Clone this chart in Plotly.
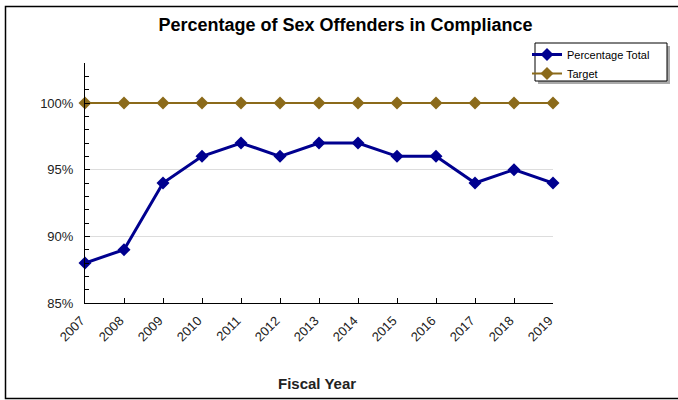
import plotly.graph_objects as go

years = [2007, 2008, 2009, 2010, 2011, 2012, 2013, 2014, 2015, 2016, 2017, 2018, 2019]
percentage_total = [88, 89, 94, 96, 97, 96, 97, 97, 96, 96, 94, 95, 94]
target = [100] * len(years)
y_ticks = [85, 90, 95, 100]
y_tick_labels = ["85%", "90%", "95%", "100%"]

W, H = 678, 400
L, R, T, B = 85, 125, 63, 97
pw, ph = W - L - R, H - T - B

BLUE = "#00008f"
GOLD = "#8b6a1a"

fig = go.Figure()
fig.add_trace(go.Scatter(
    x=years, y=percentage_total, name="Percentage Total", mode="lines+markers",
    line=dict(color=BLUE, width=3), marker=dict(symbol="diamond", size=10, color=BLUE),
    cliponaxis=False))
fig.add_trace(go.Scatter(
    x=years, y=target, name="Target", mode="lines+markers",
    line=dict(color=GOLD, width=2), marker=dict(symbol="diamond", size=10, color=GOLD),
    cliponaxis=False))

def px_x(p):
    return (p - L) / pw

def px_y(p):
    return (H - B - p) / ph

fig.update_layout(
    width=W, height=H,
    margin=dict(l=L, r=R, t=T, b=B),
    paper_bgcolor="white", plot_bgcolor="white",
    font=dict(family="Arial, Liberation Sans, sans-serif", size=13, color="#222"),
    title=dict(text="<b>Percentage of Sex Offenders in Compliance</b>",
               x=345.5 / W, xref="container", xanchor="center",
               y=1 - 25 / H, yref="container", yanchor="middle",
               font=dict(size=18, color="#000")),
    showlegend=True,
    legend=dict(x=px_x(527), y=px_y(40), xanchor="left", yanchor="top",
                bgcolor="rgba(0,0,0,0)", borderwidth=0,
                font=dict(size=11, color="#000"), tracegroupgap=0,
                itemwidth=30),
    xaxis=dict(range=[2007, 2019], tickmode="array", tickvals=years,
               ticktext=[str(y) for y in years], tickangle=-45,
               ticks="inside", ticklen=5, tickcolor="#000",
               showline=True, linecolor="#000", linewidth=1,
               showgrid=False, zeroline=False, fixedrange=True,
               ticklabelstandoff=4, ticklabelshift=-4),
    yaxis=dict(range=[85, 103], tickmode="array", tickvals=y_ticks,
               ticktext=y_tick_labels, ticks="inside", ticklen=5, tickcolor="#000",
               showline=True, linecolor="#000", linewidth=1,
               showgrid=True, gridcolor="#dddddd", zeroline=False,
               minor=dict(dtick=1, ticks="inside", ticklen=4, tickcolor="#000", showgrid=False),
               fixedrange=True, ticklabelstandoff=8),
    annotations=[dict(text="<b>Fiscal Year</b>", x=px_x(317), y=px_y(383),
                      xref="paper", yref="paper", showarrow=False,
                      xanchor="center", yanchor="middle",
                      font=dict(size=15, color="#222"))],
)

# outer border (left, top, bottom edges; right edge is outside the picture)
bx0, bx1 = px_x(5.5), px_x(700)
by0, by1 = px_y(398.5), px_y(6.5)
fig.add_shape(type="path", xref="paper", yref="paper",
              path=f"M {bx1} {by1} L {bx0} {by1} L {bx0} {by0} L {bx1} {by0}",
              line=dict(color="#000", width=1.5), layer="below")
# legend shadow and box
fig.add_shape(type="rect", xref="paper", yref="paper",
              x0=px_x(538), x1=px_x(670), y0=px_y(84), y1=px_y(46),
              line=dict(width=0), fillcolor="#aaaaaa", layer="above")
fig.add_shape(type="rect", xref="paper", yref="paper",
              x0=px_x(535), x1=px_x(667), y0=px_y(81), y1=px_y(43),
              line=dict(width=1, color="#000"), fillcolor="white", layer="above")

fig.write_html("out.html", config={"displayModeBar": False},
               post_script="document.body.style.margin='0';document.body.style.overflow='hidden';")
